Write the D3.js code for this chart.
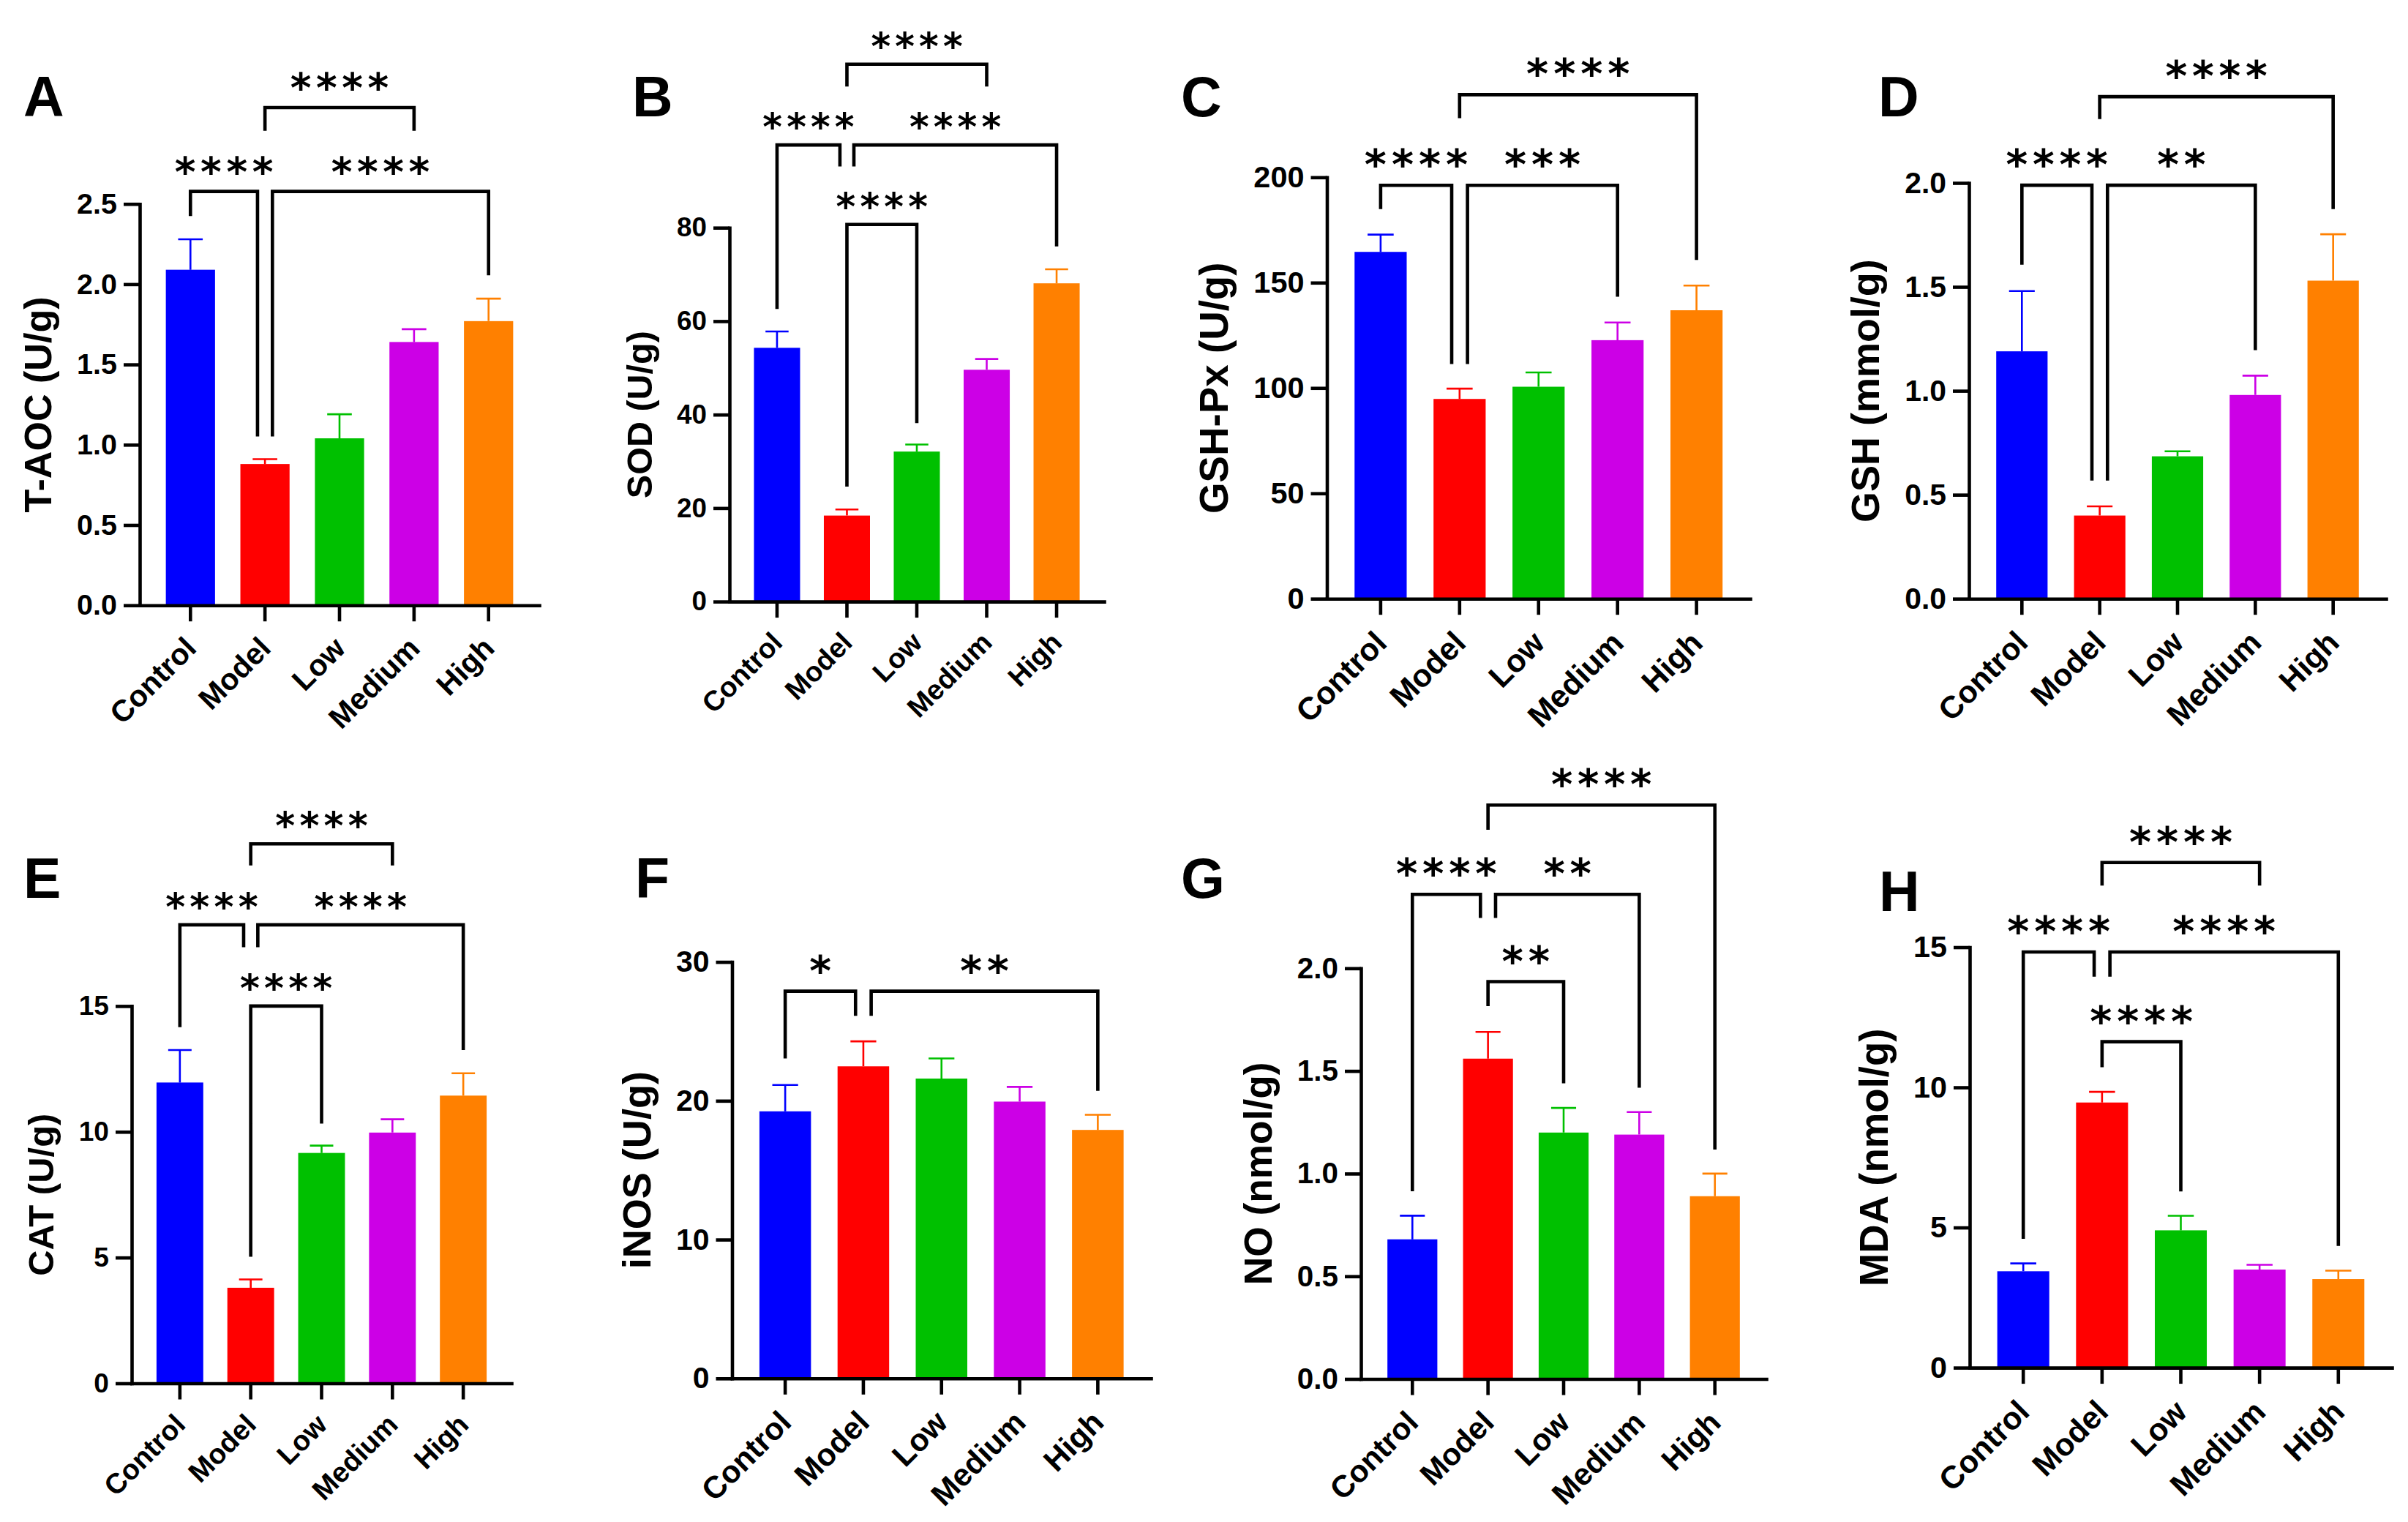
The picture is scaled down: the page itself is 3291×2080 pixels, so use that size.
<!DOCTYPE html>
<html>
<head>
<meta charset="utf-8">
<script src="https://cdn.jsdelivr.net/npm/d3@7"></script>
<style>
  body { margin: 0; background: #fff; }
  svg { display: block; }
</style>
</head>
<body>
<div class="container"></div>
<script>
const WIDTH = 3291;
const HEIGHT = 2080;
const FONT = "'Liberation Sans', Arial, Helvetica, sans-serif";
const STAR_FONT = "'DejaVu Sans', sans-serif";

const groups = ["Control", "Model", "Low", "Medium", "High"];
const barColors = ["#0000ff", "#ff0000", "#00c000", "#cc00e6", "#ff8000"];

// means and SD for each assay
const taocMean = [2.09, 0.88, 1.04, 1.64, 1.77];
const taocSd = [0.19, 0.03, 0.15, 0.08, 0.14];
const sodMean = [54.3, 18.4, 32.1, 49.6, 68.1];
const sodSd = [3.5, 1.3, 1.5, 2.3, 3.0];
const gpxMean = [164.6, 94.8, 100.6, 122.7, 136.9];
const gpxSd = [8.2, 4.9, 6.8, 8.4, 11.7];
const gshMean = [1.19, 0.40, 0.685, 0.98, 1.53];
const gshSd = [0.29, 0.044, 0.024, 0.093, 0.223];
const catMean = [11.96, 3.8, 9.16, 9.97, 11.44];
const catSd = [1.29, 0.33, 0.29, 0.53, 0.89];
const inosMean = [19.24, 22.48, 21.6, 19.94, 17.9];
const inosSd = [1.9, 1.8, 1.45, 1.06, 1.09];
const noMean = [0.68, 1.56, 1.20, 1.19, 0.89];
const noSd = [0.115, 0.13, 0.12, 0.11, 0.11];
const mdaMean = [3.44, 9.46, 4.9, 3.5, 3.16];
const mdaSd = [0.28, 0.38, 0.52, 0.17, 0.30];

// brackets: [group a, group b, bracket level, leg end a, leg end b, stars] (data units)
const taocSig = [[0, 1, 2.578, 2.424, 1.052, "****"], [1, 4, 2.578, 1.052, 2.055, "****"], [1, 3, 3.10, 2.956, 2.956, "****"]];
const sodSig = [[0, 1, 97.7, 62.6, 93.1, "****"], [1, 4, 97.7, 93.1, 76.0, "****"], [1, 3, 115.0, 110.2, 110.2, "****"], [1, 2, 80.7, 24.6, 38.2, "****"]];
const gpxSig = [[0, 1, 196.2, 184.9, 111.4, "****"], [1, 3, 196.2, 111.4, 143.3, "***"], [1, 4, 239.2, 228.1, 160.8, "****"]];
const gshSig = [[0, 1, 1.989, 1.607, 0.568, "****"], [1, 3, 1.989, 0.568, 1.196, "**"], [1, 4, 2.415, 2.307, 1.874, "****"]];
const catSig = [[0, 1, 18.23, 14.16, 17.34, "****"], [1, 4, 18.23, 17.34, 13.25, "****"], [1, 3, 21.45, 20.59, 20.59, "****"], [1, 2, 15.0, 5.03, 10.33, "****"]];
const inosSig = [[0, 1, 27.89, 23.05, 26.12, "*"], [1, 4, 27.89, 26.12, 20.72, "**"]];
const noSig = [[0, 1, 2.36, 0.914, 2.245, "****"], [1, 3, 2.36, 2.245, 1.418, "**"], [1, 2, 1.935, 1.816, 1.44, "**"], [1, 4, 2.795, 2.675, 1.117, "****"]];
const mdaSig = [[0, 1, 14.83, 4.6, 13.95, "****"], [1, 4, 14.83, 13.95, 4.34, "****"], [1, 3, 18.02, 17.2, 17.2, "****"], [1, 2, 11.63, 10.72, 6.29, "****"]];

// axis max, tick step and label format per panel
const yMax = [2.5, 80, 200, 2.0, 15, 30, 2.0, 15];
const yStep = [0.5, 20, 50, 0.5, 5, 10, 0.5, 5];
const yFormat = [".1f", "d", "d", ".1f", "d", "d", ".1f", "d"];
const titles = ["T-AOC (U/g)", "SOD (U/g)", "GSH-Px (U/g)", "GSH (mmol/g)", "CAT (U/g)", "iNOS (U/g)", "NO (nmol/g)", "MDA (nmol/g)"];
const letters = ["A", "B", "C", "D", "E", "F", "G", "H"];

const means = [taocMean, sodMean, gpxMean, gshMean, catMean, inosMean, noMean, mdaMean];
const sds = [taocSd, sodSd, gpxSd, gshSd, catSd, inosSd, noSd, mdaSd];
const sigs = [taocSig, sodSig, gpxSig, gshSig, catSig, inosSig, noSig, mdaSig];

// plot frame per panel: x of y axis, end of x axis, y of top tick, baseline
const frames = [
    [191, 737, 278.7, 827.2], [997, 1509, 311.2, 822.1], [1813.5, 2392, 242.3, 818.2], [2691, 3261, 250, 818.2],
    [180, 699, 1374.9, 1890.5], [1000.5, 1573, 1314.6, 1883.8], [1860, 2414, 1323.3, 1884.5], [2692, 3269, 1294.5, 1869.1]
];
const letterPos = [[32, 159], [864, 159], [1614, 159], [2567, 159], [32, 1227], [868, 1227], [1614, 1227], [2568, 1245]];

var translate = function(x, y) {
    return `translate(${x},${y})`;
};

var drawPanel = function(svg, i) {
    const [x0, x1, yTop, yBase] = frames[i];
    const h = yBase - yTop;
    const lw = 4.6;
    const tickLen = 22;
    const tickFont = 0.072 * h;
    const catFont = 0.075 * h;

    const x = d3.scaleBand().domain(groups).range([x0, x1])
        .paddingInner(0.34).paddingOuter(0.35);
    const y = d3.scaleLinear().domain([0, yMax[i]]).range([yBase, yTop]);
    const cx = (k) => x(groups[k]) + x.bandwidth() / 2;

    const g = svg.append('g');
    const rows = means[i].map((m, k) => ({ k: k, m: m, sd: sds[i][k] }));

    // bars
    g.selectAll('rect.bar').data(rows).enter()
        .append('rect')
        .attr('x', (d) => x(groups[d.k]))
        .attr('width', x.bandwidth())
        .attr('y', (d) => y(d.m))
        .attr('height', (d) => yBase - y(d.m))
        .attr('fill', (d) => barColors[d.k]);

    // error bars (upper only)
    const cap = x.bandwidth() / 4;
    g.selectAll('path.err').data(rows).enter()
        .append('path')
        .attr('d', (d) => `M${cx(d.k)},${y(d.m)}V${y(d.m + d.sd)}M${cx(d.k) - cap},${y(d.m + d.sd)}H${cx(d.k) + cap}`)
        .attr('stroke', (d) => barColors[d.k])
        .attr('stroke-width', 2.6)
        .attr('fill', 'none');

    // axes
    const yAxis = d3.axisLeft(y)
        .tickValues(d3.range(0, yMax[i] + yStep[i] / 2, yStep[i]))
        .tickFormat(d3.format(yFormat[i]))
        .tickSize(tickLen).tickSizeOuter(0).tickPadding(9);
    const yg = g.append('g').attr('transform', translate(x0, 0)).call(yAxis);

    const xAxis = d3.axisBottom(x).tickSize(tickLen).tickSizeOuter(0).tickFormat('');
    const xg = g.append('g').attr('transform', translate(0, yBase)).call(xAxis);

    [yg, xg].forEach((ag) => {
        ag.selectAll('path, line').attr('stroke', '#000').attr('stroke-width', lw);
        ag.select('.domain').attr('stroke-linecap', 'square');
    });
    yg.selectAll('text')
        .attr('font-family', FONT).attr('font-weight', 'bold')
        .attr('font-size', tickFont).attr('fill', '#000');

    // rotated category labels
    g.selectAll('text.cat').data(groups).enter()
        .append('text')
        .attr('transform', (d, k) => translate(cx(k) + 0.25 * catFont, yBase + tickLen + 0.95 * catFont) + ' rotate(-45)')
        .attr('text-anchor', 'end')
        .attr('font-family', FONT).attr('font-weight', 'bold')
        .attr('font-size', catFont)
        .text((d) => d);

    // y title
    const titleFont = 0.095 * h;
    const tickLeft = yg.node().getBBox().x + x0;
    g.append('text')
        .attr('transform', translate(tickLeft - 24 - 0.21 * titleFont, (yTop + yBase) / 2) + ' rotate(-90)')
        .attr('text-anchor', 'middle')
        .attr('font-family', FONT).attr('font-weight', 'bold')
        .attr('font-size', titleFont)
        .text(titles[i]);

    // panel letter
    svg.append('text')
        .attr('x', letterPos[i][0]).attr('y', letterPos[i][1])
        .attr('font-family', FONT).attr('font-weight', 'bold')
        .attr('font-size', 77)
        .text(letters[i]);

    // significance brackets
    const sig = sigs[i];
    const shift = 0.1 * x.step();
    const starFont = 0.1 * h;
    const starGap = 0.012 * h;
    sig.forEach(function(s) {
        const [a, b, level, endA, endB, label] = s;
        const shares = (grp) => sig.some((o) => o !== s && o[2] === level && (o[0] === grp || o[1] === grp));
        const xa = cx(a) + (shares(a) ? shift : 0);
        const xb = cx(b) - (shares(b) ? shift : 0);
        g.append('path')
            .attr('d', `M${xa},${y(endA)}V${y(level)}H${xb}V${y(endB)}`)
            .attr('fill', 'none')
            .attr('stroke', '#000')
            .attr('stroke-width', lw)
            .attr('stroke-linejoin', 'miter');
        g.append('text')
            .attr('x', (xa + xb) / 2 + starGap / 2)
            .attr('y', y(level) - 0.014 * h)
            .attr('text-anchor', 'middle')
            .attr('font-family', STAR_FONT).attr('font-weight', 'bold')
            .attr('font-size', starFont)
            .attr('letter-spacing', starGap)
            .text(label);
    });
};

var svg = d3.select('.container').append('svg')
    .attr('width', WIDTH)
    .attr('height', HEIGHT);
svg.append('rect').attr('width', WIDTH).attr('height', HEIGHT).attr('fill', '#fff');

frames.forEach((f, i) => drawPanel(svg, i));
</script>
</body>
</html>
